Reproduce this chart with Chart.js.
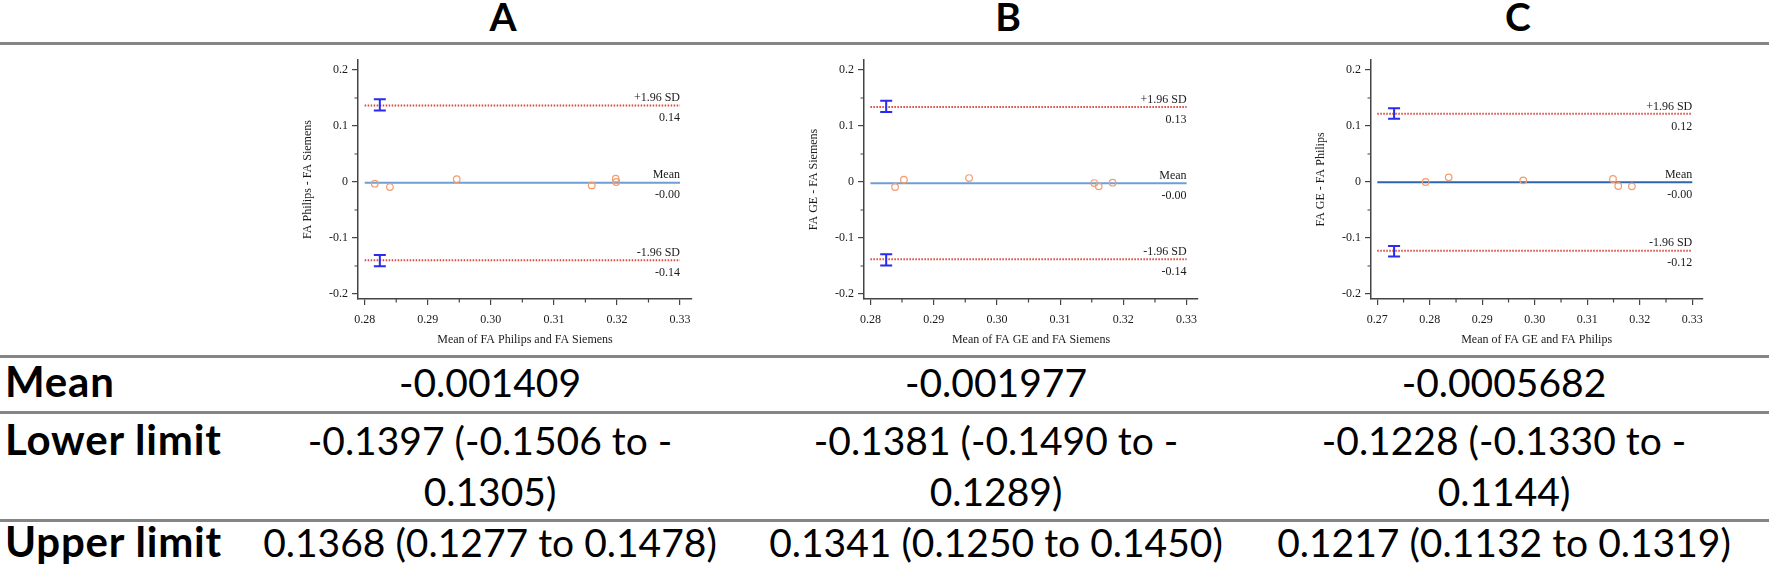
<!DOCTYPE html>
<html>
<head>
<meta charset="utf-8">
<title>Bland-Altman FA comparison</title>
<script src="https://cdn.jsdelivr.net/npm/chart.js@4.4.1/dist/chart.umd.min.js"></script>
<style>
    html, body {
        margin: 0;
        padding: 0;
        background: #ffffff;
    }
    #page {
        position: relative;
        width: 1769px;
        height: 572px;
        overflow: hidden;
        font-family: Lato, "Open Sans", sans-serif;
        color: #000;
    }
    .rule {
        position: absolute;
        left: 0;
        width: 1769px;
        height: 3px;
        background: #858585;
    }
    .panel-title {
        position: absolute;
        top: -3px;
        width: 100px;
        margin-left: -50px;
        text-align: center;
        font-weight: 700;
        font-size: 39px;
        line-height: 1;
    }
    .row-label {
        position: absolute;
        left: 5px;
        font-weight: 700;
        font-size: 42px;
        letter-spacing: 0.8px;
        line-height: 1;
        white-space: nowrap;
    }
    .cell {
        position: absolute;
        width: 500px;
        margin-left: -250px;
        text-align: center;
        font-size: 39px;
        line-height: 1;
        white-space: nowrap;
    }
    .cell.two-line {
        line-height: 51px;
    }
    .plot {
        position: absolute;
        top: 40px;
        height: 307px;
    }
</style>
</head>
<body>
<div id="page"></div>

<script>
// Panel names and axis titles
const panelNames = ['A', 'B', 'C'];
const yTitles = ['FA Philips - FA Siemens', 'FA GE - FA Siemens', 'FA GE - FA Philips'];
const xTitles = ['Mean of FA Philips and FA Siemens', 'Mean of FA GE and FA Siemens', 'Mean of FA GE and FA Philips'];

// Bland-Altman statistics (from the table)
const meanDiff = [-0.001409, -0.001977, -0.0005682];
const lowerLimit = [-0.1397, -0.1381, -0.1228];
const lowerCiLow = [-0.1506, -0.1490, -0.1330];
const lowerCiHigh = [-0.1305, -0.1289, -0.1144];
const upperLimit = [0.1368, 0.1341, 0.1217];
const upperCiLow = [0.1277, 0.1250, 0.1132];
const upperCiHigh = [0.1478, 0.1450, 0.1319];

// Observations: mean of the two scanners (x) and their difference (y)
const meansA = [0.2816, 0.2840, 0.2946, 0.3160, 0.3198, 0.3199];
const diffsA = [-0.0030, -0.0090, 0.0050, -0.0060, 0.0060, 0.0000];
const meansB = [0.2839, 0.2853, 0.2956, 0.3154, 0.3161, 0.3183];
const diffsB = [-0.0089, 0.0042, 0.0071, -0.0018, -0.0077, -0.0012];
const meansC = [0.2792, 0.2836, 0.2978, 0.3149, 0.3159, 0.3185];
const diffsC = [0.0000, 0.0083, 0.0030, 0.0054, -0.0071, -0.0077];

// Where the confidence-interval bars sit along x
const ciBarX = [0.2824, 0.2825, 0.2732];

// Axis ticks
const xTicksAB = [0.28, 0.29, 0.30, 0.31, 0.32, 0.33];
const xMinorAB = [0.285, 0.295, 0.305, 0.315, 0.325];
const xTicksC = [0.27, 0.28, 0.29, 0.30, 0.31, 0.32, 0.33];
const xMinorC = [0.275, 0.285, 0.295, 0.305, 0.315, 0.325];
const yTicks = [-0.2, -0.1, 0, 0.1, 0.2];
const yTickLabels = ['-0.2', '-0.1', '0', '0.1', '0.2'];
const yMinor = [-0.15, -0.05, 0.05, 0.15];

// Axis extents (axes are drawn a little past the outer ticks)
const xRanges = [[0.27894, 0.3319], [0.27899, 0.3318], [0.2688, 0.3319]];
const yRange = [-0.2089, 0.2179];

// Page layout
const titleCenters = [503, 1008, 1518];
const cellCenters = [490, 996, 1504];
const plotLefts = [301, 807, 1314];
const plotWidths = [399, 399, 397];
const meanLineColors = ['#6f9ed6', '#6f9ed6', '#2c66b0'];

const page = document.getElementById('page');

// Build the table part of the figure
function buildTable() {
    [42, 355, 411, 519].forEach(top => {
        const rule = document.createElement('div');
        rule.className = 'rule';
        rule.style.top = `${top}px`;
        page.appendChild(rule);
    });

    panelNames.forEach((name, i) => {
        const title = document.createElement('div');
        title.className = 'panel-title';
        title.style.left = `${titleCenters[i]}px`;
        title.textContent = name;
        page.appendChild(title);
    });

    addLabel('Mean', 360);
    addLabel('Lower limit', 418);
    addLabel('Upper limit', 520);

    panelNames.forEach((_, i) => {
        addCell(String(meanDiff[i]), cellCenters[i], 363, false);

        const hi = lowerCiHigh[i].toFixed(4);
        const lowerText = `${lowerLimit[i].toFixed(4)} (${lowerCiLow[i].toFixed(4)} to -<br>${hi.slice(1)})`;
        addCell(lowerText, cellCenters[i], 415, true);

        const upperText = `${upperLimit[i].toFixed(4)} (${upperCiLow[i].toFixed(4)} to ${upperCiHigh[i].toFixed(4)})`;
        addCell(upperText, cellCenters[i], 523, false);
    });
}

function addLabel(text, top) {
    const el = document.createElement('div');
    el.className = 'row-label';
    el.style.top = `${top}px`;
    el.textContent = text;
    page.appendChild(el);
}

function addCell(html, center, top, twoLine) {
    const el = document.createElement('div');
    el.className = twoLine ? 'cell two-line' : 'cell';
    el.style.left = `${center}px`;
    el.style.top = `${top}px`;
    el.innerHTML = html;
    page.appendChild(el);
}

// Minor ticks, CI bars and line labels drawn from the chart scales
const blandAltmanExtras = {
    id: 'blandAltmanExtras',
    afterDatasetsDraw(chart) {
        const cfg = chart.options.plugins.blandAltmanExtras;
        const ctx = chart.ctx;
        const xs = chart.scales.x;
        const ys = chart.scales.y;

        ctx.save();

        // Minor ticks
        ctx.strokeStyle = '#444';
        ctx.lineWidth = 1.2;
        ctx.beginPath();
        cfg.xMinor.forEach(v => {
            const px = xs.getPixelForValue(v);
            ctx.moveTo(px, xs.top);
            ctx.lineTo(px, xs.top + 3.5);
        });
        cfg.yMinor.forEach(v => {
            const py = ys.getPixelForValue(v);
            ctx.moveTo(ys.right, py);
            ctx.lineTo(ys.right - 3.5, py);
        });
        ctx.stroke();

        // Confidence interval bars of the limits
        ctx.strokeStyle = '#2a2af0';
        ctx.lineWidth = 2;
        const bx = xs.getPixelForValue(cfg.ciX);
        cfg.ci.forEach(([lo, hi]) => {
            const y1 = ys.getPixelForValue(lo);
            const y2 = ys.getPixelForValue(hi);
            ctx.beginPath();
            ctx.moveTo(bx, y1);
            ctx.lineTo(bx, y2);
            ctx.moveTo(bx - 6, y1);
            ctx.lineTo(bx + 6, y1);
            ctx.moveTo(bx - 6, y2);
            ctx.lineTo(bx + 6, y2);
            ctx.stroke();
        });

        // Labels at the right end of each line
        ctx.fillStyle = '#1a1a1a';
        ctx.font = '12px "Liberation Serif", serif';
        ctx.textAlign = 'right';
        ctx.textBaseline = 'middle';
        const ex = xs.getPixelForValue(cfg.lineEnd);
        cfg.labels.forEach(([name, value]) => {
            const py = ys.getPixelForValue(value);
            ctx.fillText(name, ex, py - 7.5);
            ctx.fillText(value.toFixed(2), ex, py + 12.5);
        });

        ctx.restore();
    }
};

function makePanel(i, means, diffs, xTicks, xMinor) {
    const canvasBox = document.createElement('div');
    canvasBox.className = 'plot';
    canvasBox.style.left = `${plotLefts[i]}px`;
    canvasBox.style.width = `${plotWidths[i]}px`;
    const canvas = document.createElement('canvas');
    canvasBox.appendChild(canvas);
    page.appendChild(canvasBox);

    const lineStart = xTicks[0];
    const lineEnd = xTicks[xTicks.length - 1];
    const hLine = v => [{ x: lineStart, y: v }, { x: lineEnd, y: v }];
    const serif = { family: '"Liberation Serif", serif', size: 12 };

    new Chart(canvas, {
        type: 'scatter',
        data: {
            datasets: [
                {
                    label: 'Differences',
                    data: means.map((m, k) => ({ x: m, y: diffs[k] })),
                    pointRadius: 3.3,
                    pointBorderWidth: 1.2,
                    borderColor: '#f39c6e',
                    backgroundColor: 'rgba(0,0,0,0)'
                },
                {
                    label: 'Mean',
                    type: 'line',
                    data: hLine(meanDiff[i]),
                    borderColor: meanLineColors[i],
                    borderWidth: 2,
                    pointRadius: 0
                },
                {
                    label: '+1.96 SD',
                    type: 'line',
                    data: hLine(upperLimit[i]),
                    borderColor: '#d8473c',
                    borderWidth: 2,
                    borderDash: [1.5, 1.5],
                    pointRadius: 0
                },
                {
                    label: '-1.96 SD',
                    type: 'line',
                    data: hLine(lowerLimit[i]),
                    borderColor: '#d8473c',
                    borderWidth: 2,
                    borderDash: [1.5, 1.5],
                    pointRadius: 0
                }
            ]
        },
        options: {
            responsive: true,
            maintainAspectRatio: false,
            animation: false,
            events: [],
            layout: {
                padding: { top: 20, right: 8, left: 0, bottom: 0 }
            },
            scales: {
                x: {
                    type: 'linear',
                    position: 'bottom',
                    min: xRanges[i][0],
                    max: xRanges[i][1],
                    afterBuildTicks: scale => {
                        scale.ticks = xTicks.map(v => ({ value: v }));
                    },
                    afterFit: scale => {
                        scale.height = 48;
                    },
                    grid: {
                        drawOnChartArea: false,
                        drawTicks: true,
                        tickLength: 6,
                        color: '#444',
                        lineWidth: 1.2
                    },
                    border: { display: true, color: '#444', width: 1.5 },
                    ticks: {
                        padding: 8,
                        color: '#1a1a1a',
                        font: serif,
                        maxRotation: 0,
                        callback: v => v.toFixed(2)
                    },
                    title: {
                        display: true,
                        text: xTitles[i],
                        color: '#1a1a1a',
                        font: serif,
                        padding: { top: 0, bottom: 0 }
                    }
                },
                y: {
                    type: 'linear',
                    position: 'left',
                    min: yRange[0],
                    max: yRange[1],
                    afterBuildTicks: scale => {
                        scale.ticks = yTicks.map(v => ({ value: v }));
                    },
                    afterFit: scale => {
                        scale.width = 57;
                    },
                    grid: {
                        drawOnChartArea: false,
                        drawTicks: true,
                        tickLength: 6,
                        color: '#444',
                        lineWidth: 1.2
                    },
                    border: { display: true, color: '#444', width: 1.5 },
                    ticks: {
                        padding: 4,
                        color: '#1a1a1a',
                        font: serif,
                        callback: v => yTickLabels[yTicks.indexOf(v)]
                    },
                    title: {
                        display: true,
                        text: yTitles[i],
                        color: '#1a1a1a',
                        font: serif,
                        padding: { top: 0, bottom: 0 }
                    }
                }
            },
            plugins: {
                legend: { display: false },
                tooltip: { enabled: false },
                blandAltmanExtras: {
                    xMinor: xMinor,
                    yMinor: yMinor,
                    ciX: ciBarX[i],
                    ci: [[upperCiLow[i], upperCiHigh[i]], [lowerCiLow[i], lowerCiHigh[i]]],
                    lineEnd: lineEnd,
                    labels: [['+1.96 SD', upperLimit[i]], ['Mean', meanDiff[i]], ['-1.96 SD', lowerLimit[i]]]
                }
            }
        },
        plugins: [blandAltmanExtras]
    });
}

buildTable();
makePanel(0, meansA, diffsA, xTicksAB, xMinorAB);
makePanel(1, meansB, diffsB, xTicksAB, xMinorAB);
makePanel(2, meansC, diffsC, xTicksC, xMinorC);
</script>
</body>
</html>
